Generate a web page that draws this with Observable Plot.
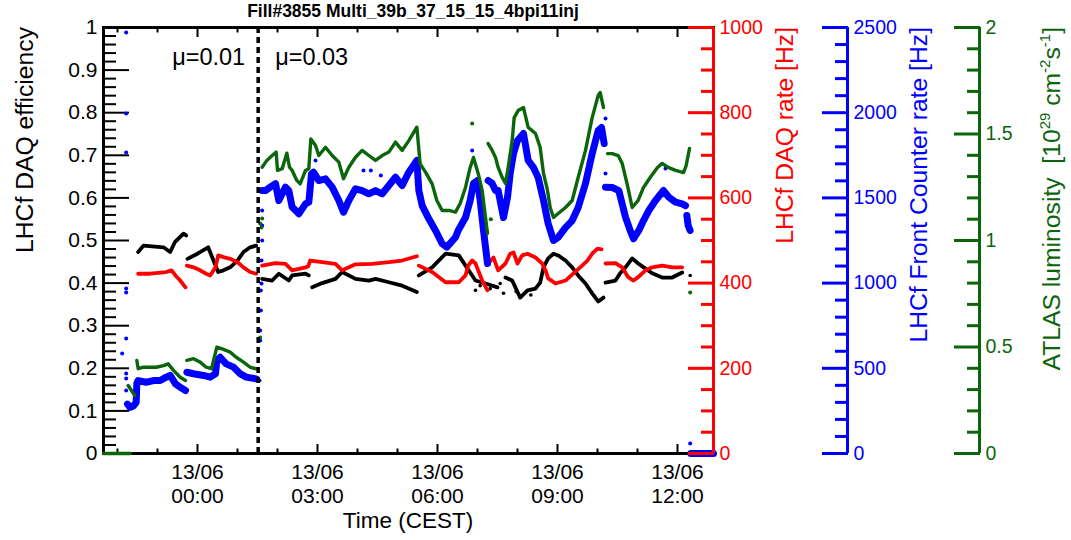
<!DOCTYPE html>
<html><head><meta charset="utf-8">
<script src="https://cdn.jsdelivr.net/npm/d3@7"></script>
<script src="https://cdn.jsdelivr.net/npm/@observablehq/plot@0.6"></script>
<style>
body{margin:0;background:#fff;}
#chart{width:1071px;height:540px;}
</style></head><body><div id="chart"></div>
<script>
// ---------------- data (times CEST, day + HH:MM, June 2015) ----------------
const chartTitle = "Fill#3855 Multi_39b_37_15_15_4bpi11inj";
const xDomain = ["12 21:39", "13 12:54"];
const switchTime = "13 01:31";
const muLabels = ["μ=0.01", "μ=0.03"];
const muLabelY = 0.93;

const xMajorTicks = ["13 00:00","13 03:00","13 06:00","13 09:00","13 12:00"];
const xMinorTicks = ["12 22:00","12 23:00","13 01:00","13 02:00","13 04:00","13 05:00","13 07:00","13 08:00","13 10:00","13 11:00"];
const effTicks = [0,0.1,0.2,0.3,0.4,0.5,0.6,0.7,0.8,0.9,1];
const rateTicks = [0,200,400,600,800,1000];
const fcTicks = [0,500,1000,1500,2000,2500];
const lumTicks = [0,0.5,1,1.5,2];
const rateMax = 1000, fcMax = 2500, lumMax = 2;

// LHCf DAQ efficiency (black), null = gap
const effT = ["12 22:31","12 22:39","12 23:09","12 23:19","12 23:26","12 23:39","12 23:43","12 23:44",
 "12 23:45","13 00:00","13 00:16","13 00:31","13 00:39","13 00:49","13 01:00","13 01:09","13 01:19","13 01:28","13 01:31",
 "13 01:37","13 01:52","13 02:02","13 02:17","13 02:22","13 02:42","13 02:47","13 02:50",
 "13 02:52","13 03:07","13 03:27","13 03:37","13 03:57","13 04:17","13 04:27","13 04:47","13 05:07","13 05:29","13 05:30",
 "13 05:32","13 05:52","13 06:12","13 06:32","13 06:42","13 06:49","13 06:57","13 07:12","13 07:30","13 07:36",
 "13 07:42","13 07:52","13 08:04","13 08:15","13 08:27","13 08:34","13 08:39","13 08:46","13 08:54","13 09:01","13 09:12","13 09:22","13 09:31","13 09:42","13 09:52","13 10:01","13 10:09","13 10:10",
 "13 10:12","13 10:27","13 10:34","13 10:42","13 10:52","13 11:01","13 11:12","13 11:22","13 11:37","13 11:52","13 12:07"];
const effV = [0.473,0.488,0.484,0.473,0.496,0.516,0.512,null,
 0.457,0.469,0.484,0.426,0.430,0.437,0.453,0.473,0.484,0.488,null,
 0.410,0.406,0.422,0.406,0.418,0.422,0.418,null,
 0.390,0.400,0.410,0.426,0.410,0.406,0.410,0.402,0.394,0.379,null,
 0.418,0.437,0.469,0.465,0.441,0.425,0.406,0.399,0.390,null,
 0.413,0.406,0.366,0.383,0.387,0.401,0.437,0.458,0.469,0.465,0.453,0.437,0.418,0.399,0.376,0.357,0.366,null,
 0.401,0.406,0.423,0.437,0.458,0.446,0.434,0.423,0.413,0.413,0.425];
const effDotT = ["13 06:57","13 07:04","13 07:19","13 07:34","13 07:39","13 07:58","13 08:20","13 12:19"];
const effDotV = [0.383,0.394,0.387,0.399,0.376,0.380,0.372,0.418];

// LHCf DAQ rate [Hz] (red)
const rateT = ["12 22:31","12 22:49","12 23:13","12 23:21","12 23:27","12 23:34","12 23:42","12 23:43",
 "12 23:44","12 23:54","13 00:04","13 00:13","13 00:19","13 00:27","13 00:31","13 00:39","13 00:49","13 01:00","13 01:09","13 01:19","13 01:28","13 01:31",
 "13 01:37","13 01:57","13 02:12","13 02:22","13 02:42","13 02:46","13 02:49","13 03:07","13 03:27","13 03:37","13 03:57","13 04:22","13 04:47","13 05:07","13 05:29","13 05:30",
 "13 05:32","13 05:52","13 06:12","13 06:32","13 06:42","13 06:46","13 06:52","13 06:57","13 07:01","13 07:07","13 07:15","13 07:15",
 "13 07:16","13 07:24","13 07:31","13 07:42","13 07:49","13 07:54","13 08:00","13 08:07","13 08:15","13 08:27","13 08:37","13 08:42","13 08:46","13 08:57","13 09:12","13 09:24","13 09:34","13 09:45","13 09:52","13 10:00","13 10:06","13 10:10",
 "13 10:12","13 10:27","13 10:37","13 10:46","13 10:54","13 11:01","13 11:12","13 11:22","13 11:37","13 11:52","13 12:07"];
const rateV = [422,422,426,430,418,406,390,null,
 441,437,430,422,418,437,465,461,457,449,437,426,422,null,
 441,447,445,430,437,439,453,449,445,430,444,445,449,453,463,null,
 441,426,402,402,418,441,453,446,430,406,383,null,
 446,460,430,446,469,472,446,465,469,460,446,430,411,399,406,423,437,453,469,481,479,null,
 446,447,437,414,406,414,430,437,441,437,437];

// LHCf Front Counter rate [Hz] (blue)
const fcT = ["12 22:15","12 22:19","12 22:24","12 22:28","12 22:29","12 22:31","12 22:43","12 22:54","12 23:04","12 23:13","12 23:19","12 23:27","12 23:34","12 23:42","12 23:43",
 "12 23:44","12 23:54","13 00:09","13 00:19","13 00:27","13 00:29","13 00:34","13 00:43","13 00:54","13 01:04","13 01:13","13 01:28","13 01:31",
 "13 01:37","13 01:42","13 01:49","13 01:57","13 02:02","13 02:12","13 02:17","13 02:22","13 02:32","13 02:42","13 02:47","13 02:51","13 02:54","13 03:02","13 03:12","13 03:22","13 03:32","13 03:39","13 03:47","13 03:57","13 04:07","13 04:17","13 04:27","13 04:37","13 04:47","13 04:57","13 05:07","13 05:17","13 05:29",
 "13 05:32","13 05:37","13 05:47","13 05:57","13 06:07","13 06:14","13 06:27","13 06:31","13 06:42","13 06:49","13 06:54","13 07:00","13 07:04","13 07:09","13 07:15","13 07:15",
 "13 07:16","13 07:22","13 07:27","13 07:31","13 07:39","13 07:45","13 07:49","13 07:54","13 08:00","13 08:09","13 08:16","13 08:24","13 08:31","13 08:39","13 08:46","13 08:54","13 09:01","13 09:12","13 09:22","13 09:31","13 09:42","13 09:52","13 10:01","13 10:06","13 10:10","13 10:11",
 "13 10:12","13 10:22","13 10:32","13 10:37","13 10:42","13 10:49","13 10:54","13 11:02","13 11:09","13 11:17","13 11:27","13 11:39","13 11:47","13 11:57","13 12:07","13 12:12","13 12:13",
 "13 12:14","13 12:16","13 12:19","13 12:19",
 "13 12:20","13 12:30","13 12:40","13 12:54"];
const fcV = [290,270,280,300,411,428,418,428,428,448,458,409,389,370,null,
 477,468,458,448,468,546,565,526,507,468,448,438,null,
 1543,1543,1563,1583,1485,1563,1543,1446,1407,1465,1475,1641,1651,1602,1612,1563,1485,1416,1485,1553,1543,1524,1543,1524,1573,1621,1573,1651,1720,
 1543,1455,1377,1309,1231,1211,1269,1309,1385,1485,1585,1602,1485,1309,1115,null,
 1602,1585,1543,1543,1385,1502,1643,1760,1837,1878,1720,1678,1620,1485,1350,1250,1268,1326,1367,1444,1585,1760,1895,1913,1819,null,
 1563,1561,1543,1465,1387,1309,1260,1309,1367,1426,1485,1543,1504,1475,1465,1455,null,
 1397,1338,1309,null,
 0,0,0,0];
const fcDotT = ["12 22:13","12 22:13","12 22:13","12 22:13","12 22:13","12 22:13","12 22:13","12 22:13","12 22:13","12 22:07",
 "13 01:33","13 01:34","13 01:34","13 01:35","13 01:35","13 01:36","13 01:36","13 01:37","13 01:37","13 01:37",
 "13 02:57","13 04:09","13 04:20","13 04:35","13 06:52","13 10:12","13 10:12","13 11:42","13 12:19"];
const fcDotV = [2471,1995,1766,968,945,675,469,440,370,587,
 428,663,722,839,956,998,1133,1250,1338,1426,
 1720,1661,1661,1631,1778,1966,1643,1673,59];

// ATLAS luminosity [1e29 cm-2 s-1] (green)
const lumT = ["12 21:39","12 22:19","12 22:19",
 "12 22:16","12 22:21","12 22:26","12 22:26",
 "12 22:29","12 22:31","12 22:39","12 22:49","12 22:58","12 23:09","12 23:16","12 23:24","12 23:34","12 23:42","12 23:43",
 "12 23:44","12 23:54","13 00:04","13 00:13","13 00:21","13 00:29","13 00:36","13 00:49","13 00:58","13 01:09","13 01:19","13 01:28","13 01:31",
 "13 01:37","13 01:44","13 01:52","13 01:58","13 02:00","13 02:07","13 02:14","13 02:18","13 02:22","13 02:29","13 02:34","13 02:42","13 02:47","13 02:50","13 02:57","13 03:02","13 03:12","13 03:22","13 03:32","13 03:39","13 03:47","13 03:57","13 04:07","13 04:17","13 04:27","13 04:37","13 04:47","13 04:57","13 05:07","13 05:17","13 05:29",
 "13 05:34","13 05:42","13 05:52","13 05:59","13 06:07","13 06:17","13 06:27","13 06:34","13 06:42","13 06:49","13 06:54","13 07:01","13 07:07","13 07:12","13 07:15","13 07:15",
 "13 07:16","13 07:22","13 07:27","13 07:31","13 07:37","13 07:42","13 07:46","13 07:52","13 07:55","13 08:01","13 08:09","13 08:16","13 08:27","13 08:34","13 08:39","13 08:45","13 08:49","13 08:54","13 09:01","13 09:12","13 09:22","13 09:31","13 09:42","13 09:52","13 10:01","13 10:04","13 10:09","13 10:10",
 "13 10:15","13 10:22","13 10:31","13 10:37","13 10:45","13 10:52","13 11:01","13 11:09","13 11:19","13 11:30","13 11:37","13 11:46","13 11:57","13 12:09","13 12:13","13 12:18","13 12:18",
 "13 12:19","13 12:31"];
const lumV = [0,0,null,
 0.319,0.296,0.272,null,
 0.437,0.398,0.405,0.405,0.405,0.413,0.421,0.390,0.358,0.343,null,
 0.437,0.445,0.429,0.405,0.398,0.499,0.492,0.476,0.452,0.429,0.405,0.398,null,
 1.344,1.376,1.399,1.415,1.329,1.337,1.410,1.344,1.329,1.282,1.266,1.329,1.337,1.477,1.446,1.399,1.438,1.399,1.368,1.290,1.344,1.391,1.423,1.399,1.376,1.399,1.415,1.462,1.423,1.469,1.532,
 1.360,1.321,1.266,1.188,1.141,1.141,1.133,1.174,1.249,1.343,1.390,1.315,1.235,1.108,1.033,null,
 1.455,1.423,1.390,1.343,1.296,1.268,1.343,1.469,1.577,1.610,1.624,1.531,1.502,1.437,1.315,1.235,1.155,1.108,1.127,1.155,1.188,1.296,1.423,1.577,1.681,1.695,1.624,null,
 1.408,1.408,1.399,1.362,1.258,1.155,1.188,1.249,1.296,1.343,1.362,1.343,1.329,1.319,1.352,1.432,null,
 0,0];
const lumDotT = ["13 01:34","13 01:34","13 01:36","13 01:37","13 06:52","13 07:20","13 12:19"];
const lumDotV = [0.545,1.08,1.061,1.103,1.549,1.10,0.756];

// ---------------- build ----------------
const parse = s => d3.timeParse("%Y-%m-%d %H:%M")("2015-06-" + s);
const rows = (T, V, max) => T.map((t, i) => ({t: parse(t), y: V[i] == null ? NaN : V[i] / max}));
const minor = (lo, hi, step, majorStep) => d3.range(lo, hi + step / 2, step)
  .map(v => +v.toFixed(6)).filter(v => Math.abs(v / majorStep - Math.round(v / majorStep)) > 1e-6);

const C = {black: "#000000", red: "#ff0000", blue: "#0000ff", green: "#0b650b"};
const xEnd = parse(xDomain[1]);
const fmt = d3.format("~g");

const eff = rows(effT, effV, 1), rate = rows(rateT, rateV, rateMax),
      fc = rows(fcT, fcV, fcMax), lum = rows(lumT, lumV, lumMax);

function yAxisSet(ticks, max, minorStep, majorStep, color, dx, anchor, fontSize) {
  const mins = minor(0, max, minorStep, majorStep);
  const common = {anchor, dx, color, label: null, strokeWidth: anchor === "left" ? 2 : 3};
  return [
    Plot.axisY(mins.map(v => v / max), {...common, tickSize: -13, tickFormat: () => ""}),
    Plot.axisY(ticks.map(v => v / max), {...common, tickSize: -26, tickPadding: 32, fontSize,
      tickFormat: d => fmt(+(d * max).toFixed(6))})
  ];
}

const lineOpts = (c, w) => ({x: "t", y: "y", stroke: c, strokeWidth: w, strokeLinejoin: "round", strokeLinecap: "round"});

const plot = Plot.plot({
  width: 1071, height: 540,
  marginLeft: 103, marginRight: 358, marginTop: 27, marginBottom: 87,
  x: {type: "time", domain: [parse(xDomain[0]), xEnd]},
  y: {domain: [0, 1]},
  style: {fontFamily: "'Liberation Sans', Arial, Helvetica, sans-serif", background: "white", color: "black", overflow: "visible"},
  marks: [
    Plot.frame({stroke: "black", strokeWidth: 3}),
    ...yAxisSet(effTicks, 1, 0.02, 0.1, C.black, 0, "left", 21),
    Plot.axisX(xMinorTicks.map(parse), {anchor: "bottom", tickSize: -4.5, tickFormat: () => "", label: null, strokeWidth: 2}),
    Plot.axisX(xMajorTicks.map(parse), {anchor: "bottom", tickSize: -9, tickPadding: 18, tickFormat: d3.timeFormat("%d/%m\n%H:%M"),
      lineHeight: 1.12, fontSize: 21, label: null, strokeWidth: 2}),
    Plot.axisX(xMinorTicks.map(parse), {anchor: "top", tickSize: -4.5, tickFormat: () => "", label: null, strokeWidth: 2}),
    Plot.axisX(xMajorTicks.map(parse), {anchor: "top", tickSize: -9, tickFormat: () => "", label: null, strokeWidth: 2}),
    // data
    Plot.line(eff, lineOpts(C.black, 3.8)),
    Plot.dot(rows(effDotT, effDotV, 1), {x: "t", y: "y", r: 1.8, fill: C.black}),
    Plot.line(rate, lineOpts(C.red, 3.8)),
    Plot.line(fc, lineOpts(C.blue, 7)),
    Plot.dot(rows(fcDotT, fcDotV, fcMax), {x: "t", y: "y", r: 2, fill: C.blue}),
    Plot.line(lum, lineOpts(C.green, 3.4)),
    Plot.dot(rows(lumDotT, lumDotV, lumMax), {x: "t", y: "y", r: 2, fill: C.green}),
    // separator
    Plot.ruleX([parse(switchTime)], {stroke: "black", strokeWidth: 3.5, strokeDasharray: "6,4"}),
    Plot.text([muLabels[0]], {x: () => parse(switchTime), y: () => muLabelY, text: d => d, dx: -13, textAnchor: "end", fontSize: 23.5}),
    Plot.text([muLabels[1]], {x: () => parse(switchTime), y: () => muLabelY, text: d => d, dx: 17, textAnchor: "start", fontSize: 23.5}),
    // extra axes
    Plot.ruleX([xEnd], {stroke: C.red, strokeWidth: 3}),
    ...yAxisSet(rateTicks, rateMax, 50, 200, C.red, 0, "right", 19.5),
    Plot.ruleX([xEnd], {stroke: C.blue, strokeWidth: 3, dx: 134}),
    ...yAxisSet(fcTicks, fcMax, 100, 500, C.blue, 134, "right", 19.5),
    Plot.ruleX([xEnd], {stroke: C.green, strokeWidth: 3, dx: 266}),
    ...yAxisSet(lumTicks, lumMax, 0.1, 0.5, C.green, 266, "right", 19.5)
  ]
});
document.getElementById("chart").appendChild(plot);

// titles
const svg = d3.select(plot);
const font = "'Liberation Sans', Arial, Helvetica, sans-serif";
svg.append("text").attr("x", 413).attr("y", 17).attr("text-anchor", "middle")
  .attr("font-family", font).attr("font-weight", "bold").attr("font-size", 17.5).text(chartTitle);
svg.append("text").attr("x", 408).attr("y", 528).attr("text-anchor", "middle")
  .attr("font-family", font).attr("font-size", 22.5).text("Time (CEST)");
const vTitle = (x, color, parts) => {
  const t = svg.append("text").attr("transform", `translate(${x},27) rotate(-90)`).attr("text-anchor", "end")
    .attr("font-family", font).attr("font-size", 24.7).attr("fill", color);
  parts.forEach(p => {
    const s = t.append("tspan").text(p[0]);
    if (p[1]) s.attr("font-size", 15).attr("dy", -10);
    else if (p[2]) s.attr("dy", 10);
  });
};
vTitle(33, C.black, [["LHCf DAQ efficiency"]]);
vTitle(793, C.red, [["LHCf DAQ rate [Hz]"]]);
vTitle(927, C.blue, [["LHCf Front Counter rate [Hz]"]]);
vTitle(1060, C.green, [["ATLAS luminosity  [10"], ["29", true], [" cm", false, true], ["-2", true], ["s", false, true], ["-1", true], ["]", false, true]]);
</script></body></html>
